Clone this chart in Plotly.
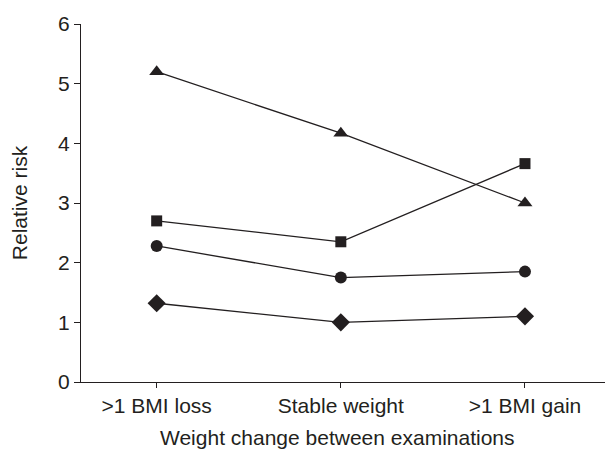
import plotly.graph_objects as go

categories = [">1 BMI loss", "Stable weight", ">1 BMI gain"]
triangle = [5.20, 4.17, 3.00]
square = [2.70, 2.35, 3.66]
circle = [2.28, 1.75, 1.85]
diamond = [1.32, 1.00, 1.10]
y_ticks = [0, 1, 2, 3, 4, 5, 6]

FONT = "Liberation Sans, Arial, sans-serif"
INK = "#231f20"

fig = go.Figure()
xs = list(range(len(categories)))
for vals, sym, size in [(triangle, "triangle-up", 13), (square, "square", 11),
                        (circle, "circle", 12), (diamond, "diamond", 14)]:
    fig.add_trace(go.Scatter(
        x=xs, y=vals, mode="lines+markers",
        line=dict(color=INK, width=1.3),
        marker=dict(symbol=sym, size=size, color=INK, line=dict(width=0)),
        showlegend=False, cliponaxis=False))

# page body has an 8px margin, so the figure is sized to fill the rest
fig.update_layout(
    width=605, height=445,
    margin=dict(l=73, r=0, t=16, b=71),
    paper_bgcolor="white", plot_bgcolor="white",
    font=dict(family=FONT, size=21, color=INK),
    xaxis=dict(range=[-0.411, 2.478], tickvals=xs, ticktext=categories,
               showgrid=False, zeroline=False, showline=True, linecolor=INK,
               linewidth=1.3, ticks="outside", ticklen=5, tickcolor=INK,
               tickwidth=1.2, tickfont=dict(size=21)),
    yaxis=dict(range=[0, 6], tickvals=y_ticks, showgrid=False, zeroline=False,
               showline=True, linecolor=INK, linewidth=1.3, ticks="outside",
               ticklen=6, tickcolor=INK, tickwidth=1.2, tickfont=dict(size=21),
               title=dict(text="Relative risk", standoff=30, font=dict(size=21))),
    annotations=[dict(text="Weight change between examinations", xref="paper",
                      yref="paper", x=(337 - 81) / 532, y=-55 / 358, xanchor="center",
                      yanchor="middle", showarrow=False, font=dict(size=21))],
)
fig.write_html("out.html")
